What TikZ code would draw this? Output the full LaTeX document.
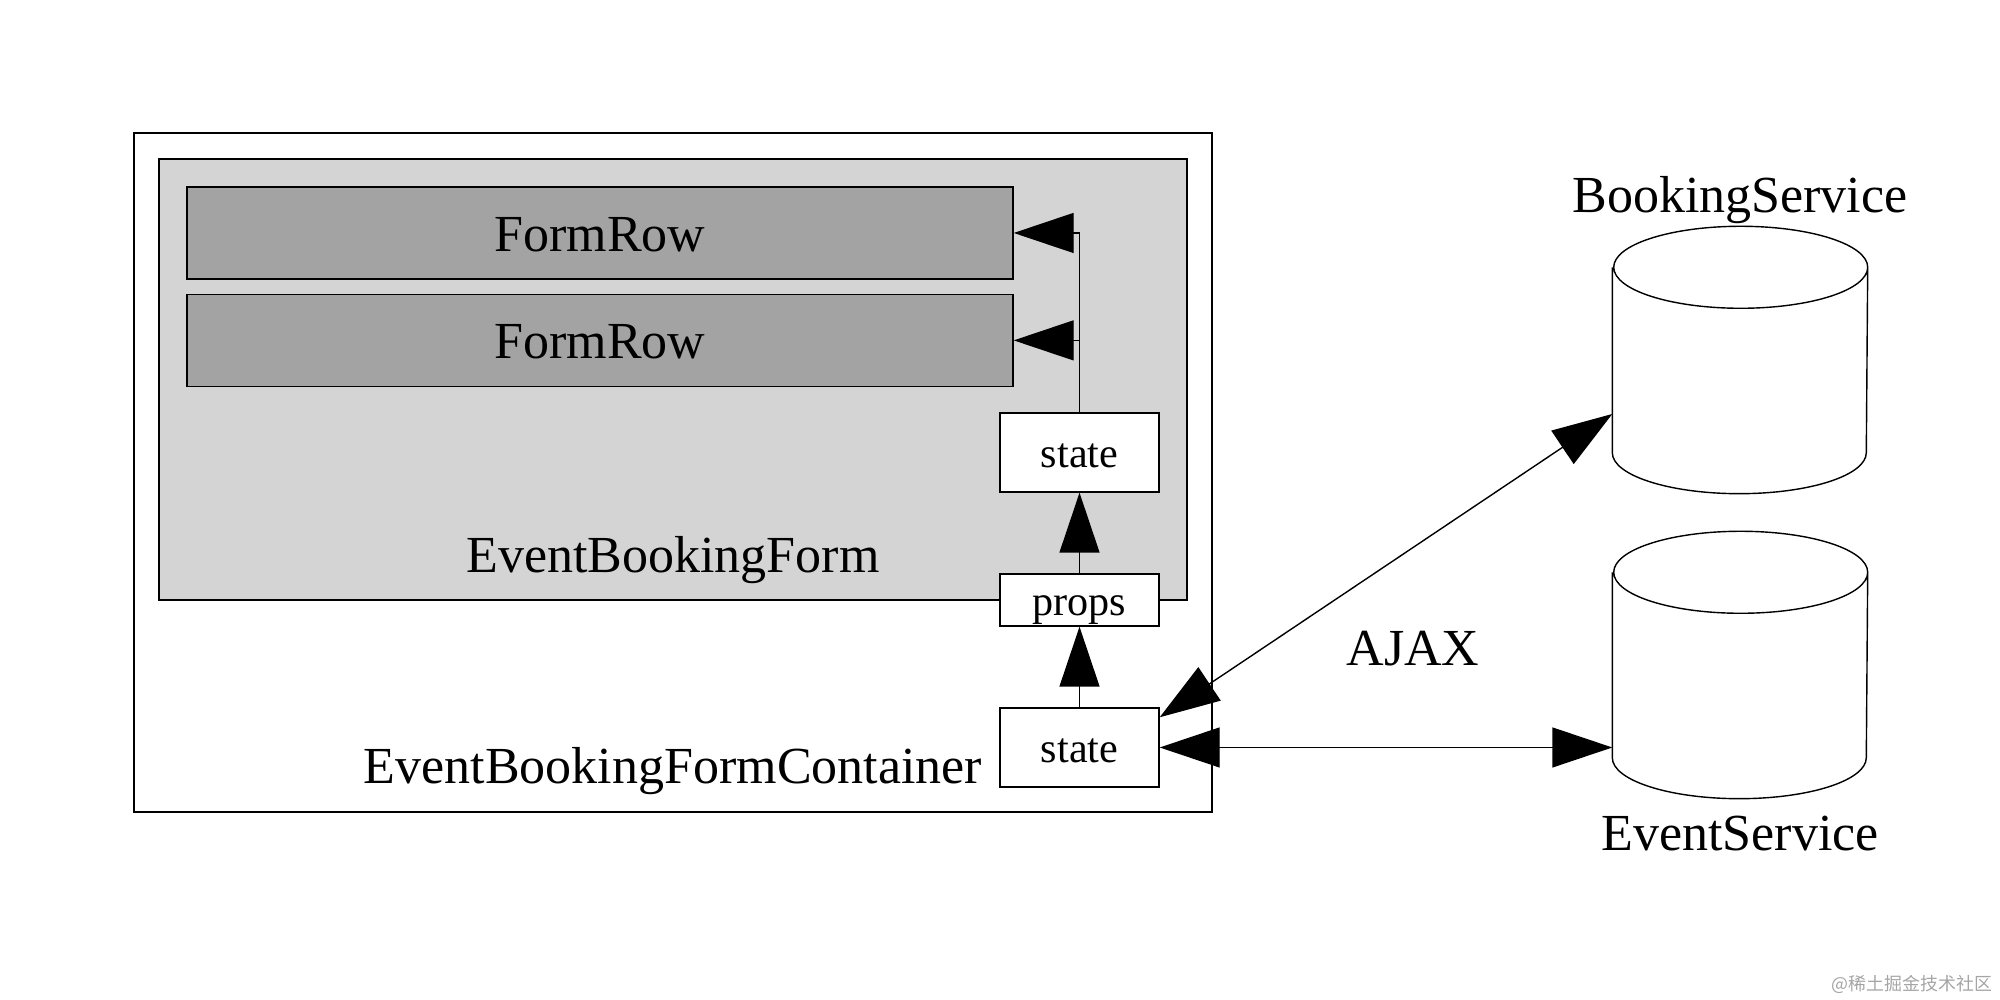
\documentclass[tikz,border=0pt]{standalone}
\usepackage{fontspec}
\setmainfont{Liberation Serif}
\newfontfamily\cjkfont{Noto Sans CJK SC}
\usetikzlibrary{shapes.geometric, arrows.meta, positioning, calc}
\definecolor{formgray}{RGB}{212,212,212}
\definecolor{rowgray}{RGB}{163,163,163}
\definecolor{markgray}{RGB}{165,165,165}

\begin{document}
\begin{tikzpicture}[line width=0.4pt]
    \tikzstyle{frame} = [rectangle, draw, inner sep=0pt]
    \tikzstyle{row} = [rectangle, draw, fill=rowgray, minimum width=8.26cm, minimum height=0.92cm, inner sep=0pt, text height=10.4pt, text depth=0pt, font=\fontsize{14.8}{17}\selectfont]
    \tikzstyle{value} = [rectangle, draw, fill=white, minimum width=1.59cm, inner sep=0pt, text height=8.6pt, text depth=0pt, font=\fontsize{12}{14}\selectfont]
    \tikzstyle{service} = [rectangle, minimum width=2.54cm, minimum height=2.66cm, inner sep=0pt]
    \tikzstyle{caption} = [anchor=base, inner sep=0pt, font=\fontsize{14.8}{17}\selectfont]
    \tikzstyle{arrow} = [-{Triangle[length=0.6cm, width=0.4cm]}]
    \tikzstyle{biarrow} = [{Triangle[length=0.6cm, width=0.4cm]}-{Triangle[length=0.6cm, width=0.4cm]}]

    \useasboundingbox (0,0) rectangle (20,10);

    \node[frame, minimum width=10.78cm, minimum height=6.79cm] (container) at (6.73,5.275) {};
    \node[frame, fill=formgray, minimum width=10.28cm, minimum height=4.41cm] (form) at (6.73,6.205) {};
    \node[row] (row1) at (6.00,7.67) {FormRow};
    \node[row, below=0.14cm of row1] (row2) {FormRow};
    \node[value, minimum height=0.79cm] (istate) at (10.795,5.475) {state};
    \node[value, minimum height=0.52cm] (props) at (10.795,4.00) {props};
    \node[value, minimum height=0.79cm] (cstate) at (10.795,2.525) {state};
    \node[service] (booking) at (17.40,6.40) {};
    \node[service] (event) at (17.40,3.35) {};

    % cylinder outlines
    \foreach \db in {booking, event}
        \draw ([yshift=-0.41cm]\db.north west) -- ([yshift=0.41cm]\db.south west)
            arc[start angle=180, end angle=360, x radius=1.27cm, y radius=0.41cm]
            -- ([yshift=-0.41cm]\db.north east)
            arc[start angle=0, end angle=180, x radius=1.27cm, y radius=0.41cm]
            arc[start angle=180, end angle=360, x radius=1.27cm, y radius=0.41cm];

    \node[caption] (formlabel) at (6.73,4.27) {EventBookingForm};
    \node[caption] (containerlabel) at (6.73,2.16) {EventBookingFormContainer};
    \node[caption] (bookinglabel) at (17.40,7.87) {BookingService};
    \node[caption] (eventlabel) at (17.40,1.49) {EventService};
    \node[caption] (ajax) at (14.13,3.34) {AJAX};
    \node[anchor=base east, inner sep=0pt, text=markgray, font=\cjkfont\fontsize{5.1}{6}\selectfont] (mark) at (19.93,0.09) {@稀土掘金技术社区};

    \draw[arrow] (cstate) -- (props);
    \draw[arrow] (props) -- (istate);
    \draw (istate.north) -- (istate.north |- row1.east);
    \draw[arrow] (istate.north |- row1.east) -- (row1.east);
    \draw[arrow] (istate.north |- row2.east) -- (row2.east);
    \draw[biarrow] ([yshift=-0.1cm]cstate.north east) -- ([yshift=-0.54cm]booking.west);
    \draw[biarrow] (cstate.east) -- (cstate.east -| event.west);
\end{tikzpicture}
\end{document}
